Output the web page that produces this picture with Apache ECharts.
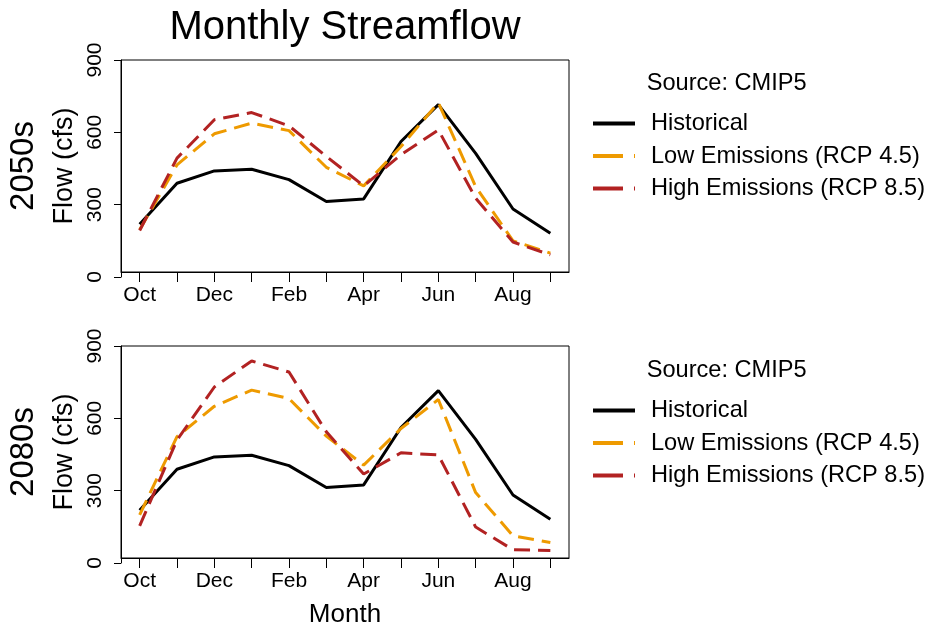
<!DOCTYPE html>
<html>
<head>
<meta charset="utf-8">
<script src="https://cdn.jsdelivr.net/npm/echarts@6/dist/echarts.min.js"></script>
<style>
html,body{margin:0;padding:0;background:#fff;}
#chart{width:929px;height:630px;}
</style>
</head>
<body>
<div id="chart"></div>
<script>
// ---- data ----
const months = ['Oct','Nov','Dec','Jan','Feb','Mar','Apr','May','Jun','Jul','Aug','Sep'];
const historical = [219, 389, 440, 447, 404, 313, 324, 562, 715, 513, 282, 181];
const low2050  = [196, 465, 594, 638, 607, 455, 378, 541, 723, 375, 150, 99];
const high2050 = [193, 493, 652, 682, 627, 500, 378, 507, 610, 327, 145, 92];
const low2080  = [200, 524, 650, 717, 682, 526, 406, 558, 678, 292, 113, 85];
const high2080 = [154, 510, 730, 838, 792, 544, 369, 457, 448, 149, 55, 52];
const yTicks = [0, 300, 600, 900];
const seriesNames = ['Historical', 'Low Emissions (RCP 4.5)', 'High Emissions (RCP 8.5)'];
const periods = ['2050s', '2080s'];

// ---- styling ----
const FONT = 'Liberation Sans';
const BLACK = '#000000';
const ORANGE = '#EE9A00';
const RED = '#B22222';
const DASH = [16, 8];

const chart = echarts.init(document.getElementById('chart'), null, {renderer: 'canvas'});

const panelTop = [60, 346];
const boxH = 212, axisH = 217, gLeft = 121, gWidth = 448;

const grids = [], xAxes = [], yAxes = [], series = [], legends = [], titles = [], graphics = [];

titles.push({
  text: 'Monthly Streamflow', left: 345, top: 8, textAlign: 'center', padding: 0,
  textStyle: {fontFamily: FONT, fontSize: 40, fontWeight: 'normal', color: BLACK}
});

const panelData = [[historical, low2050, high2050], [historical, low2080, high2080]];
const sourceTop = [71.5, 358];
const legendTop = [111.5, 398.5];

for (let p = 0; p < 2; p++) {
  const top = panelTop[p];
  const gA = grids.length;
  grids.push({left: gLeft, top: top, width: gWidth, height: boxH, show: true,
              borderColor: BLACK, borderWidth: 1, backgroundColor: 'transparent'});
  const gB = grids.length;
  grids.push({left: gLeft, top: top, width: gWidth, height: axisH, show: false});

  xAxes.push({
    gridIndex: gA, type: 'category', data: months, boundaryGap: true,
    axisLine: {show: true, lineStyle: {color: BLACK, width: 1}},
    axisTick: {show: true, alignWithLabel: true, interval: 0, length: 10, lineStyle: {color: BLACK, width: 1}},
    axisLabel: {interval: 1, margin: 13, fontFamily: FONT, fontSize: 21, color: BLACK},
    splitLine: {show: false},
    name: p === 1 ? 'Month' : '', nameLocation: 'middle', nameGap: 44,
    nameTextStyle: {fontFamily: FONT, fontSize: 26, color: BLACK}
  });
  yAxes.push({
    gridIndex: gA, type: 'value', min: 0, max: 900,
    axisLine: {show: false}, axisTick: {show: false}, axisLabel: {show: false}, splitLine: {show: false},
    name: 'Flow (cfs)', nameLocation: 'middle', nameRotate: 90, nameGap: 43,
    nameTextStyle: {fontFamily: FONT, fontSize: 27, color: BLACK}
  });
  const xi = xAxes.length;
  xAxes.push({gridIndex: gB, type: 'category', data: months, boundaryGap: true, show: false});
  const yi = yAxes.length;
  yAxes.push({
    gridIndex: gB, type: 'value', min: yTicks[0], max: yTicks[yTicks.length - 1], interval: yTicks[1] - yTicks[0],
    axisLine: {show: true, lineStyle: {color: BLACK, width: 1}},
    axisTick: {show: true, length: 7, lineStyle: {color: BLACK, width: 1}},
    axisLabel: {rotate: 90, margin: 15, fontFamily: FONT, fontSize: 21, color: BLACK},
    splitLine: {show: false}
  });

  const colors = [BLACK, ORANGE, RED];
  for (let s = 0; s < 3; s++) {
    series.push({
      type: 'line', name: seriesNames[s], xAxisIndex: xi, yAxisIndex: yi,
      data: panelData[p][s], symbol: 'none', clip: false, animation: false,
      lineStyle: {color: colors[s], width: 3, type: s === 0 ? 'solid' : DASH, cap: 'butt'},
      itemStyle: {color: colors[s]}, z: 2 + s
    });
  }

  titles.push({
    text: 'Source: CMIP5', left: 646.7, top: sourceTop[p], padding: 0,
    textStyle: {fontFamily: FONT, fontSize: 23.6, fontWeight: 'normal', color: BLACK}
  });

  const hidden = {color: 'rgba(0,0,0,0)', borderWidth: 0, opacity: 0};
  legends.push({
    orient: 'vertical', left: 591, top: legendTop[p], padding: 0,
    itemWidth: 42, itemHeight: 14, itemGap: 8.5, selectedMode: false,
    textStyle: {fontFamily: FONT, fontSize: 23.6, color: BLACK, lineHeight: 23.6, padding: [0, 0, 0, 11]},
    data: [
      {name: seriesNames[0], itemStyle: hidden, lineStyle: {color: BLACK, width: 4, type: 'solid'}},
      {name: seriesNames[1], itemStyle: hidden, lineStyle: {color: ORANGE, width: 4, type: [30, 11]}},
      {name: seriesNames[2], itemStyle: hidden, lineStyle: {color: RED, width: 4, type: [30, 11]}}
    ]
  });

  graphics.push({
    type: 'text', x: 23.5, y: top + boxH / 2, rotation: Math.PI / 2,
    style: {text: periods[p], fontFamily: FONT, fontSize: 33, fill: BLACK,
            textAlign: 'center', textVerticalAlign: 'middle'}
  });
}

chart.setOption({
  backgroundColor: '#ffffff',
  animation: false,
  textStyle: {fontFamily: FONT},
  title: titles,
  grid: grids,
  xAxis: xAxes,
  yAxis: yAxes,
  legend: legends,
  series: series,
  graphic: graphics
});
</script>
</body>
</html>
